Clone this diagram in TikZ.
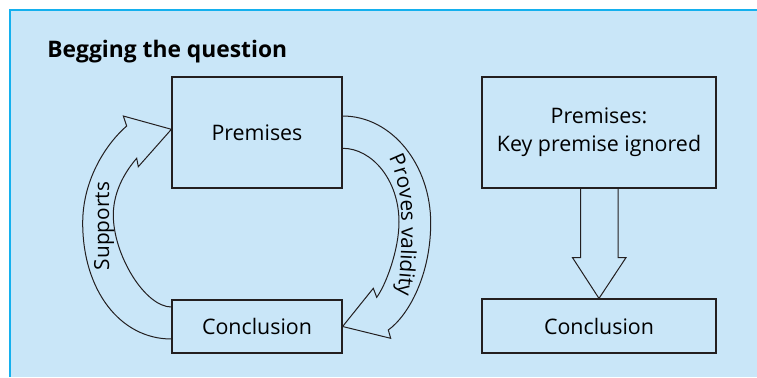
\documentclass[tikz,border=0pt]{standalone}
\usepackage{fontspec}
\setmainfont{Open Sans}
\usetikzlibrary{calc,positioning,decorations.text}
\definecolor{panelblue}{RGB}{201,230,248}
\definecolor{panelrule}{RGB}{20,176,238}
\definecolor{inkgray}{RGB}{35,31,32}

\begin{document}
\begin{tikzpicture}[x=0.5pt, y=-0.5pt,
    box/.style={draw=inkgray, line width=0.6pt, align=center, inner sep=0pt, font=\fontsize{10.7}{14.2}\selectfont},
    bigarrow/.style={draw=inkgray, line width=0.5pt, line join=miter}]
    \useasboundingbox (0,0) rectangle (757,377);
    % Panel
    \fill [panelblue] (10,10) rectangle (757,377);
    \draw [panelrule, line width=0.8pt] (10,377) -- (10,10) -- (757,10);
    \node (title) [anchor=base west, inner sep=0pt, font=\bfseries\fontsize{11.4}{13}\selectfont] at (47,57) {Begging the question};

    % Left: circular argument
    \node (prem) [box, minimum width=85pt, minimum height=55.5pt] at (257,132.5) {Premises};
    \node (concl) [box, minimum width=85pt, minimum height=26.5pt] at (257,326.5) {Conclusion};
    \coordinate (supIn) at ($(concl.west)+(0,-19.5)$);
    \coordinate (supOut) at ($(concl.west)+(0,12.5)$);
    \coordinate (supTip) at ($(prem.west)+(0,-3.2)$);
    \coordinate (prvIn) at ($(prem.east)+(0,15.8)$);
    \coordinate (prvOut) at ($(prem.east)+(0,-16.5)$);
    % Supports arrow
    \draw [bigarrow] (supIn) .. controls (145,307) and (113.3,255) .. (113.3,215)
        .. controls (113.3,190) and (126.8,169.6) .. (136.7,158.3) -- (138.3,166.7) -- (supTip)
        -- (123.3,116) -- (126.7,126) .. controls (107.7,142.3) and (82.7,178) .. (82.7,223)
        .. controls (82.7,290) and (120,339) .. (supOut);
    \node (sup) [rotate=90, inner sep=0pt, font=\fontsize{10.4}{12}\selectfont] at (104,226) {Supports};
    % Proves validity arrow
    \draw [bigarrow] (prvOut) .. controls (392,116) and (430.7,165) .. (430.7,223)
        .. controls (430.7,275) and (408.6,315.3) .. (388.3,330) -- (390.7,338.3) -- (concl.east)
        -- (373.3,288.3) -- (376.7,297.3) .. controls (385.7,285.3) and (399,250) .. (399,222)
        .. controls (399,180) and (372,148.3) .. (prvIn);
    \path [decorate, decoration={text along path, text align=center,
        text={|\fontsize{10.4}{12}\selectfont|Proves validity}}]
        (383,150) .. controls (396,165) and (401.5,195) .. (401.5,225)
        .. controls (401.5,255) and (400,280) .. (396,305);

    % Right: key premise ignored
    \node (prem2) [box, minimum width=117pt, minimum height=55.5pt] at (599,132.5) {Premises:\\Key premise ignored};
    \node (concl2) [box, minimum width=117pt, minimum height=27pt] at (599,326) {Conclusion};
    \draw [bigarrow] ($(prem2.south)+(-18.5,0)$) -- ++(0,69) -- ++(-8,0) -- (concl2.north)
        -- ($(prem2.south)+(27,69)$) -- ++(-8,0) -- ($(prem2.south)+(19,0)$);
\end{tikzpicture}
\end{document}
